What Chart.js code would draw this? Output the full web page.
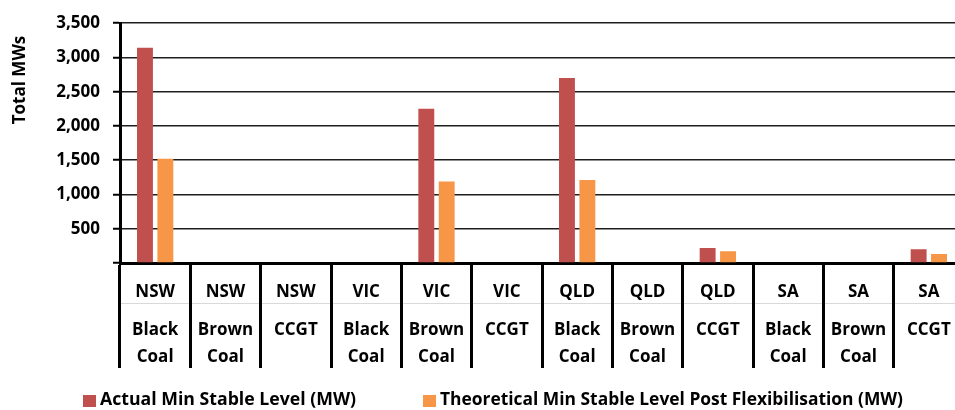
<!DOCTYPE html>
<html>
<head>
<meta charset="utf-8">
<script src="https://cdn.jsdelivr.net/npm/chart.js@4"></script>
<style>
  html, body { margin: 0; padding: 0; background: #fff; overflow: hidden; }
  #wrap { width: 964px; height: 410px; }
</style>
</head>
<body>
<div id="wrap"><canvas id="mslChart" width="964" height="410"></canvas></div>
<script>
// categories: state + plant type (two label rows)
const states = ['NSW', 'NSW', 'NSW', 'VIC', 'VIC', 'VIC', 'QLD', 'QLD', 'QLD', 'SA', 'SA', 'SA'];
const plantTypes = [
    ['Black', 'Coal'], ['Brown', 'Coal'], ['CCGT'],
    ['Black', 'Coal'], ['Brown', 'Coal'], ['CCGT'],
    ['Black', 'Coal'], ['Brown', 'Coal'], ['CCGT'],
    ['Black', 'Coal'], ['Brown', 'Coal'], ['CCGT']
];

// MW values (null = no bar)
const actualMSL = [3140, null, null, null, 2250, null, 2700, null, 220, null, null, 200];
const theoreticalMSL = [1520, null, null, null, 1190, null, 1210, null, 170, null, null, 130];

const yTicks = [500, 1000, 1500, 2000, 2500, 3000, 3500];

const FONT = '"Open Sans", Lato, sans-serif';

// draws the two-row category labels, y title and the legend
const extraText = {
    id: 'extraText',
    beforeDraw(chart) {
        const ctx = chart.ctx;
        const area = chart.chartArea;
        ctx.save();
        ctx.strokeStyle = '#d9d9d9';
        ctx.lineWidth = 1;
        ctx.beginPath();
        ctx.moveTo(area.left, 303.5);
        ctx.lineTo(area.right, 303.5);
        ctx.stroke();
        ctx.restore();
    },
    afterDraw(chart) {
        const ctx = chart.ctx;
        const xs = chart.scales.x;
        ctx.save();
        ctx.fillStyle = '#000';
        ctx.textAlign = 'center';
        ctx.textBaseline = 'middle';
        ctx.font = 'bold 17px ' + FONT;
        states.forEach((s, i) => {
            const x = xs.getPixelForValue(i);
            ctx.fillText(s, x, 292, 62);
            plantTypes[i].forEach((w, j) => ctx.fillText(w, x, 330 + j * 27, 60));
        });

        // y axis title
        ctx.save();
        ctx.translate(20, 80);
        ctx.rotate(-Math.PI / 2);
        ctx.font = 'bold 17px ' + FONT;
        ctx.fillText('Total MWs', 0, 0, 95);
        ctx.restore();

        // legend
        ctx.font = 'bold 18px ' + FONT;
        ctx.textAlign = 'left';
        const legendX = [83, 423];
        const legendW = [256, 463];
        chart.data.datasets.forEach((ds, i) => {
            ctx.fillStyle = ds.backgroundColor;
            ctx.fillRect(legendX[i], 395, 13, 12);
            ctx.fillStyle = '#000';
            ctx.fillText(ds.label, legendX[i] + 17, 400, legendW[i]);
        });
        ctx.restore();
    }
};

const ctx = document.getElementById('mslChart').getContext('2d');
const mslChart = new Chart(ctx, {
    type: 'bar',
    data: {
        labels: states.map((s, i) => s + ' ' + plantTypes[i].join(' ')),
        datasets: [{
            label: 'Actual Min Stable Level (MW)',
            data: actualMSL,
            backgroundColor: '#C0504D',
            barPercentage: 0.78,
            categoryPercentage: 0.58
        }, {
            label: 'Theoretical Min Stable Level Post Flexibilisation (MW)',
            data: theoreticalMSL,
            backgroundColor: '#F79646',
            barPercentage: 0.78,
            categoryPercentage: 0.58
        }]
    },
    options: {
        responsive: false,
        animation: false,
        devicePixelRatio: 1,
        layout: { padding: { top: 20, left: 0, right: 0, bottom: 40 } },
        plugins: {
            legend: { display: false },
            tooltip: { enabled: false }
        },
        scales: {
            x: {
                offset: true,
                afterFit: s => { s.height = 107; },
                border: { color: '#000', width: 3 },
                grid: {
                    offset: true,
                    drawOnChartArea: false,
                    drawTicks: true,
                    tickLength: 105,
                    color: '#000',
                    lineWidth: 3
                },
                ticks: { display: false }
            },
            y: {
                min: 0,
                max: 3500,
                afterFit: s => { s.width = 120; },
                afterBuildTicks: s => { s.ticks = [0].concat(yTicks).map(v => ({ value: v })); },
                border: { color: '#000', width: 3 },
                grid: {
                    color: '#1e1e1e',
                    lineWidth: 1.5,
                    tickLength: 7,
                    tickColor: '#000',
                    tickWidth: 2
                },
                ticks: {
                    padding: 13,
                    color: '#000',
                    font: { family: FONT, size: 17, weight: 'bold' },
                    callback: v => v === 0 ? '' : v.toLocaleString('en-US')
                }
            }
        }
    },
    plugins: [extraText]
});
</script>
</body>
</html>
